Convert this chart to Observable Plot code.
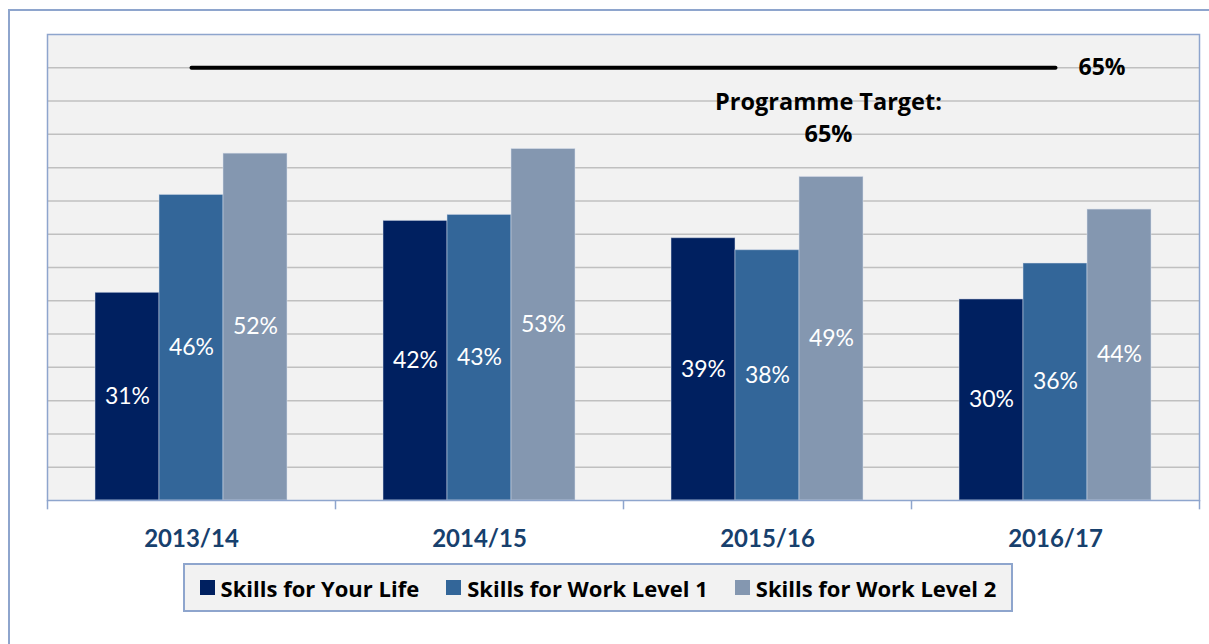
<!DOCTYPE html>
<html><head><meta charset="utf-8">
<script src="https://cdn.jsdelivr.net/npm/d3@7"></script>
<script src="https://cdn.jsdelivr.net/npm/@observablehq/plot@0.6"></script>
<style>
body{margin:0;background:#fff;font-family:Lato, sans-serif;}
#wrap{position:relative;width:1209px;height:644px;overflow:hidden;}
#border{position:absolute;left:8px;top:9px;width:1400px;height:800px;border:2px solid #8EA5CD;box-sizing:border-box;}
#chart{position:absolute;left:0;top:0;}
#legend{position:absolute;left:183px;top:563px;width:830px;height:49px;border:2px solid #8EA5CD;box-sizing:border-box;background:#F2F2F2;display:flex;align-items:center;justify-content:center;gap:27px;font-family:"Open Sans", sans-serif;font-weight:bold;font-size:22px;color:#000;}
.item{display:flex;align-items:center;gap:6px}
.sw{width:15px;height:15px;display:inline-block}
</style></head><body>
<div id="wrap"><div id="border"></div><div id="chart"></div><div id="legend"></div></div>
<script>
const years = ["2013/14", "2014/15", "2015/16", "2016/17"];
const series = ["Skills for Your Life", "Skills for Work Level 1", "Skills for Work Level 2"];
const skillsForYourLife = [31.2, 42.0, 39.4, 30.2];
const skillsForWorkLevel1 = [45.9, 42.9, 37.6, 35.6];
const skillsForWorkLevel2 = [52.1, 52.8, 48.6, 43.7];
const targetValue = 65;
const targetLabel = "Programme Target:\n65%";
const yTicks = [5, 10, 15, 20, 25, 30, 35, 40, 45, 50, 55, 60, 65];
const colors = ["#002060", "#336699", "#8497B0"];

const values = [skillsForYourLife, skillsForWorkLevel1, skillsForWorkLevel2];
const W = 1209, H = 560, mL = 47, mR = 10, mT = 34, mB = 60;
const bandW = (W - mL - mR) / years.length;
const pad = bandW / 6, barW = bandW * 2 / 9;
const font = "Lato, sans-serif";
const boldFont = "'Open Sans', sans-serif";
const edge = "#8EA5CD";

const marks = [
  Plot.frame({fill: "#F2F2F2", stroke: null}),
  Plot.ruleY(yTicks, {stroke: "#C0C0C0", strokeWidth: 1.5})
];
series.forEach((s, k) => {
  const rows = years.map((y, i) => ({year: y, value: values[k][i], series: s}));
  marks.push(Plot.barY(rows, {
    x: "year", y: "value", fill: colors[k], stroke: "#DDE4EF", strokeOpacity: 0.5, strokeWidth: 1,
    insetLeft: pad + k * barW, insetRight: bandW - pad - (k + 1) * barW
  }));
  marks.push(Plot.text(rows, {
    x: "year", y: d => d.value / 2, text: d => Math.round(d.value) + "%",
    fill: "white", fontSize: 23, dx: -bandW / 2 + pad + (k + 0.5) * barW
  }));
});
marks.push(
  Plot.lineY([years[0], years[years.length - 1]].map(y => ({year: y, value: targetValue})),
    {x: "year", y: "value", stroke: "black", strokeWidth: 4}),
  Plot.text([targetValue + "%"], {x: () => years[years.length - 1], y: () => targetValue, text: d => d,
    textAnchor: "start", dx: 23, fontSize: 23, fontWeight: "bold", fontFamily: boldFont, fill: "black"}),
  Plot.text([targetLabel], {x: () => years[2], y: () => 57.8, text: d => d, dx: 61,
    fontSize: 23.5, fontWeight: "bold", fontFamily: boldFont, fill: "black", lineHeight: 1.36}),
  Plot.frame({stroke: edge, strokeWidth: 1.5, fill: null}),
  Plot.ruleX(years, {x: d => d, y1: 0, y2: -1.4, dx: -bandW / 2, stroke: edge, strokeWidth: 1.5}),
  Plot.ruleX([years[years.length - 1]], {x: d => d, y1: 0, y2: -1.4, dx: bandW / 2, stroke: edge, strokeWidth: 1.5}),
  Plot.axisX({tickSize: 0, tickPadding: 29, fontSize: 24, fontWeight: "bold", fill: "#17406D", label: null})
);

const chart = Plot.plot({
  width: W, height: H, marginLeft: mL, marginRight: mR, marginTop: mT, marginBottom: mB,
  style: {fontFamily: font, background: "transparent", overflow: "visible"},
  x: {type: "band", domain: years, padding: 0},
  y: {domain: [0, 70], axis: null},
  marks
});
document.getElementById("chart").appendChild(chart);

const legend = document.getElementById("legend");
series.forEach((s, k) => {
  const it = document.createElement("div");
  it.className = "item";
  const sw = document.createElement("span");
  sw.className = "sw"; sw.style.background = colors[k];
  const t = document.createElement("span");
  t.textContent = s;
  it.appendChild(sw); it.appendChild(t);
  legend.appendChild(it);
});
</script>
</body></html>
